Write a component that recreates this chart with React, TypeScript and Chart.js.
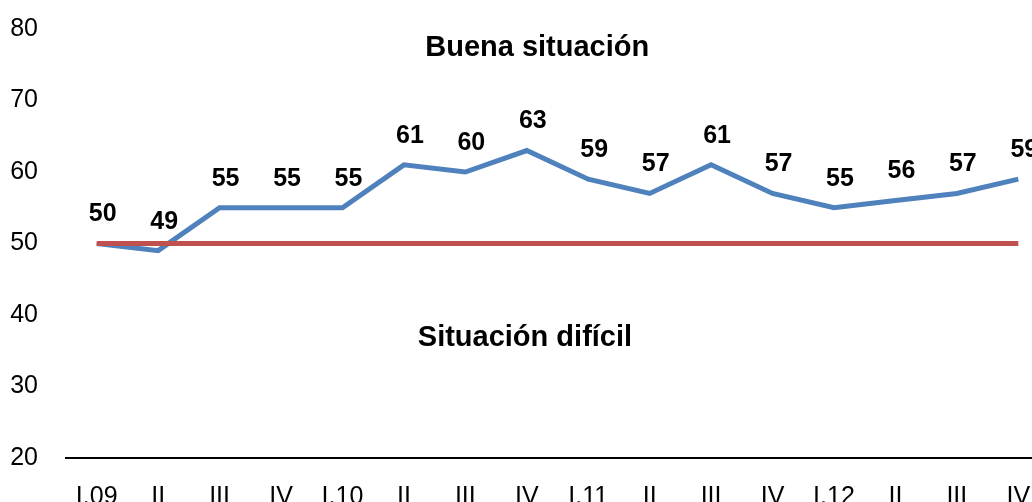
import React, { useEffect, useRef } from "react";
import { Chart, registerables } from "chart.js";

Chart.register(...registerables);

const categories = ["I.09", "II", "III", "IV", "I.10", "II", "III", "IV", "I.11", "II", "III", "IV", "I.12", "II", "III", "IV"];
const indexValues = [50, 49, 55, 55, 55, 61, 60, 63, 59, 57, 61, 57, 55, 56, 57, 59];
const thresholdValues = [50, 50, 50, 50, 50, 50, 50, 50, 50, 50, 50, 50, 50, 50, 50, 50];
const yTicks = [20, 30, 40, 50, 60, 70, 80];
const upperText = "Buena situación";
const lowerText = "Situación difícil";

const FONT = "'Liberation Sans', Arial, sans-serif";

const textPlugin = {
  id: "texts",
  afterDatasetsDraw(chart: any) {
    const ctx = chart.ctx;
    const xs = chart.scales.x;
    const ys = chart.scales.y;
    const meta = chart.getDatasetMeta(1);
    ctx.save();
    ctx.fillStyle = "#000";
    ctx.textAlign = "center";
    ctx.textBaseline = "middle";
    ctx.font = `bold 25px ${FONT}`;
    meta.data.forEach((pt: any, i: number) => {
      ctx.fillText(String(Math.round(indexValues[i])), pt.x + 6, pt.y - 29);
    });
    const step = xs.getPixelForValue(1) - xs.getPixelForValue(0);
    ctx.font = `bold 29px ${FONT}`;
    ctx.fillText(upperText, xs.getPixelForValue(7) + 0.17 * step, ys.getPixelForValue(77.4));
    ctx.fillText(lowerText, xs.getPixelForValue(7) - 0.03 * step, ys.getPixelForValue(36.8));
    ctx.restore();
  },
};

export default function App() {
  const ref = useRef<HTMLCanvasElement>(null);
  useEffect(() => {
    if (!ref.current) return;
    const chart = new Chart(ref.current, {
      type: "line",
      data: {
        labels: categories,
        datasets: [
          {
            label: "Umbral",
            data: thresholdValues,
            borderColor: "#C0504D",
            borderWidth: 5,
            pointRadius: 0,
            fill: false,
          },
          {
            label: "Indicador",
            data: indexValues,
            borderColor: "#4F81BD",
            borderWidth: 5,
            pointRadius: 0,
            fill: false,
            tension: 0,
          },
        ],
      },
      options: {
        animation: false,
        responsive: false,
        events: [],
        layout: { padding: { top: 29, right: 12, left: 0, bottom: 0 } },
        plugins: { legend: { display: false }, tooltip: { enabled: false } },
        scales: {
          x: {
            type: "category",
            offset: true,
            grid: { display: false, drawTicks: false },
            border: { display: true, color: "#000", width: 2 },
            ticks: {
              color: "#000",
              font: { family: FONT, size: 25 },
              padding: 24,
              autoSkip: false,
              maxRotation: 0,
            },
            afterFit(scale: any) {
              scale.height = 44;
              scale.paddingLeft = 0;
              scale.paddingRight = 0;
            },
          },
          y: {
            min: 20,
            max: 80,
            grid: { display: false, drawTicks: false },
            border: { display: false },
            afterBuildTicks(scale: any) {
              scale.ticks = yTicks.map((v) => ({ value: v }));
            },
            ticks: {
              color: "#000",
              font: { family: FONT, size: 25 },
              padding: 28,
            },
            afterFit(scale: any) {
              scale.width = 66;
              scale.paddingTop = 0;
              scale.paddingBottom = 0;
            },
          },
        },
      },
      plugins: [textPlugin],
    });
    return () => chart.destroy();
  }, []);
  return (
    <div style={{ position: "fixed", left: 0, top: 0, width: 1032, height: 502, overflow: "hidden", background: "#fff" }}>
      <canvas ref={ref} width={1061} height={502} style={{ display: "block" }} />
    </div>
  );
}
